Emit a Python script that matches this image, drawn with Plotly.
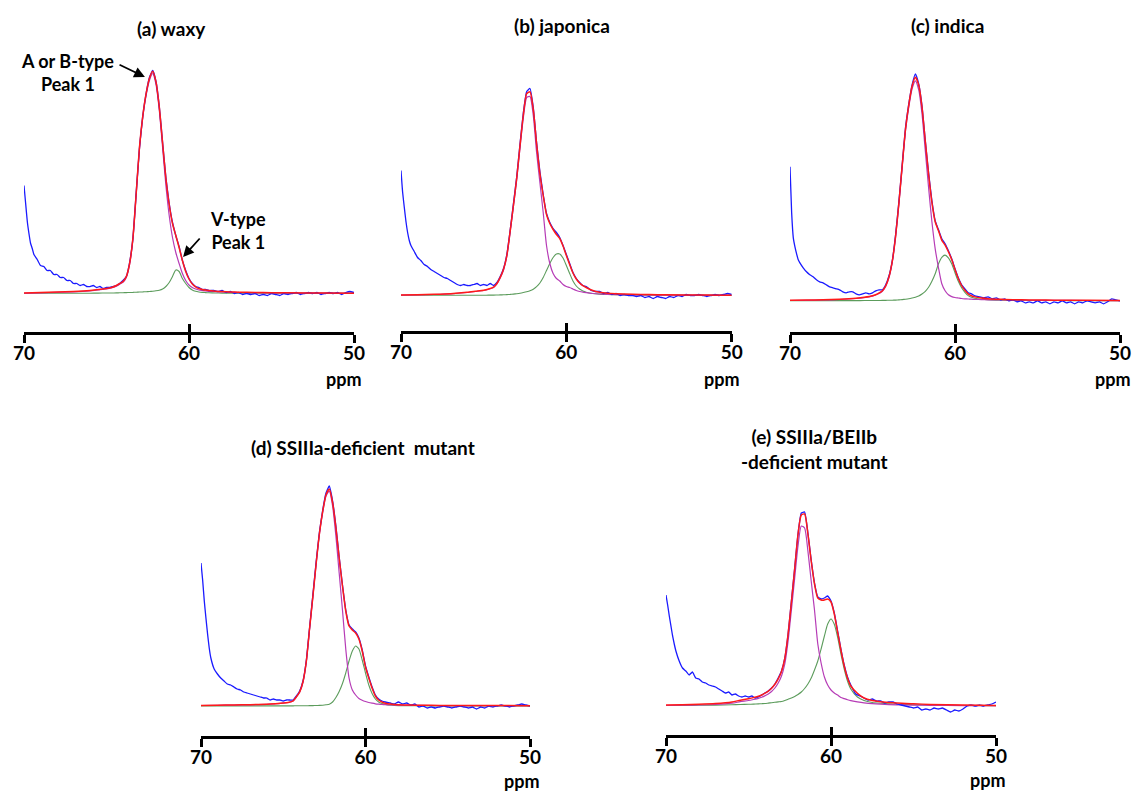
import plotly.graph_objects as go

# ---------------- data (intensities in arbitrary units) -------------
PPM_FIT = [70, 69, 68, 67, 66, 65.5, 65, 64.7,
           64.4, 64.2, 64.0, 63.8, 63.6, 63.4, 63.2, 63.0, 62.8, 62.6, 62.4, 62.2, 62.0, 61.8, 61.6,
           61.4, 61.2, 61.0, 60.8, 60.6, 60.4, 60.2, 60.0, 59.8, 59.6, 59.4, 59.2, 59.0, 58.8,
           58.4, 58.0, 57.5, 57.0, 56.0, 55.0, 54.0, 52.0, 50.0]

PPM_EXP = [70.0, 69.9, 69.8, 69.7, 69.6, 69.5, 69.4, 69.2, 69.0, 68.8, 68.6, 68.4, 68.2, 68.0,
           67.8, 67.6, 67.4, 67.2, 67.0, 66.8, 66.6, 66.4, 66.2, 66.0, 65.8, 65.6, 65.4, 65.2,
           65.0, 64.8, 64.6,
           64.4, 64.2, 64.0, 63.8, 63.6, 63.4, 63.2, 63.0, 62.8, 62.6, 62.4, 62.2, 62.0, 61.8,
           61.6, 61.4, 61.2, 61.0, 60.8, 60.6, 60.4, 60.2, 60.0, 59.8, 59.6, 59.4, 59.2, 59.0, 58.8,
           58.5, 58.25, 58.0, 57.75, 57.5, 57.25, 57.0, 56.75, 56.5, 56.25, 56.0, 55.75, 55.5,
           55.25, 55.0, 54.75, 54.5, 54.25, 54.0, 53.75, 53.5, 53.25, 53.0, 52.75, 52.5, 52.25,
           52.0, 51.75, 51.5, 51.25, 51.0, 50.75, 50.5, 50.25, 50.0]

# (a) waxy
A_EXP = [108, 90, 72, 60, 50, 45, 39, 34, 28, 27, 23, 23, 19, 19, 16, 16, 13, 13, 10, 10, 8, 9,
         7, 7, 8, 6, 7, 5, 6, 6, 7,
         8, 10, 13, 17, 31, 55, 101, 146, 178, 200, 216, 223, 212, 187, 151, 116, 90, 71, 58,
         47, 33, 23, 15, 10, 7, 6, 4, 4, 3,
         3, 2, 3, 1, 2, 0, 1, -1, 0, -1, 0, -2, -1, -2, 0, -1, -2, 0, -1, 0, 1, -1, 0, 1, 0,
         1, -1, 0, 1, 0, 1, -1, 1, 2, 1]
A_FIT = [0.5, 1.0, 1.5, 2.0, 3.0, 4.0, 5.0, 6.0,
         8, 10, 12, 16.9, 30, 55.1, 100.3, 146.5, 177.6, 199.8, 215, 222.3, 211.7, 186.3, 150.5,
         115, 89, 70, 58, 46, 33, 22, 14.5, 9.5, 6.7, 5, 4.1, 3.4, 2.9,
         2.3, 1.9, 1.5, 1.3, 1.0, 0.8, 0.7, 0.4, 0.3]
A_PEAK1 = [0.2, 0.7, 1.2, 1.7, 2.7, 3.6, 4.5, 5.5,
           7.4, 9.3, 11.2, 16, 29, 54, 99, 145, 176, 198, 213, 220, 209, 183, 146,
           108, 78, 56, 41, 30, 20, 13, 8.5, 6, 4.5, 3.5, 3, 2.5, 2.2,
           1.8, 1.5, 1.2, 1, 0.8, 0.6, 0.5, 0.3, 0.2]
A_VTYPE = [0.3, 0.3, 0.3, 0.3, 0.3, 0.4, 0.5, 0.5,
           0.6, 0.7, 0.8, 0.9, 1.0, 1.1, 1.3, 1.5, 1.6, 1.8, 2.0, 2.3, 2.7, 3.3, 4.5,
           7, 11, 17, 23.5, 22, 15, 10, 6, 3.5, 2.2, 1.5, 1.1, 0.9, 0.7,
           0.5, 0.4, 0.3, 0.3, 0.2, 0.2, 0.2, 0.1, 0.1]

# (b) japonica
B_EXP = [125, 103, 88, 74, 63, 55, 50, 44, 38, 35, 31, 29, 26, 24, 22, 20, 18, 17, 15, 13, 11,
         10, 11, 10, 10, 11, 12, 10, 11, 10, 12,
         10, 13, 19, 27, 41, 65, 92, 119, 152, 183, 204, 207, 188, 153, 124, 101, 82, 73, 67,
         63, 58, 50, 41, 32, 23, 17, 13, 10, 9,
         5, 4, 4, 2, 3, 1, 2, 0, 1, 0, 0, -1, 0, -2, -1, -3, -1, -2, -3, -1, -2, 0, -1, 1, 0,
         0, 1, 0, -1, 0, 1, 0, 1, 2, 1]
B_FIT = [0.5, 0.8, 1.2, 1.8, 3.2, 4.25, 5.3, 6.55,
         8.4, 12, 18.1, 26.2, 39.9, 64.1, 90.4, 117.8, 150.3, 181, 201.8, 203.8, 186.3, 151.8, 122,
         100, 81, 72, 66, 61, 57, 49.5, 40, 31, 22.5, 16.5, 12.5, 9.8, 8,
         5, 3.3, 2.2, 1.7, 1.2, 0.9, 0.7, 0.5, 0.35]
B_PEAK1 = [0.3, 0.6, 1.0, 1.6, 3.0, 4.0, 5.0, 6.2,
           8, 11.5, 17.5, 25.5, 39, 63, 89, 116, 148, 178, 198, 199, 180, 143, 113,
           83, 50, 32, 22, 17, 14.5, 11, 9, 8, 6.5, 5, 4, 3.3, 2.8,
           2.0, 1.5, 1.1, 0.9, 0.6, 0.5, 0.4, 0.3, 0.2]
B_VTYPE = [0.2, 0.2, 0.2, 0.2, 0.2, 0.25, 0.3, 0.35,
           0.4, 0.5, 0.6, 0.7, 0.9, 1.1, 1.4, 1.8, 2.3, 3.0, 3.8, 4.8, 6.3, 8.8, 12.5,
           18, 25, 32, 38, 41.5, 41.5, 37.5, 30, 22, 14.5, 9.5, 6.5, 4.5, 3.3,
           2.0, 1.4, 1.0, 0.8, 0.5, 0.4, 0.3, 0.2, 0.15]

# (c) indica
C_EXP = [134, 88, 63, 54, 47, 41, 38, 33, 29, 26, 24, 21, 19, 18, 16, 14, 13, 12, 11, 9, 8, 9,
         9, 7, 6, 7, 8, 7, 8, 10, 11,
         11, 16, 25, 40, 66, 99, 136, 173, 197, 216, 227, 217, 195, 160, 128, 100, 80, 71, 62,
         57, 50, 42, 32, 23, 16, 12, 8, 7, 5,
         4, 3, 4, 2, 3, 1, 2, 0, 1, -1, 0, -2, -1, -2, 0, -2, -1, -3, -1, -2, 0, -2, -1, -3,
         -1, -2, 0, -1, -2, -1, -3, -1, 2, 1, 0]
C_FIT = [0.5, 0.7, 1.0, 1.5, 2.5, 3.45, 5.0, 6.95,
         10.0, 14.95, 24.0, 39.6, 64.7, 97.9, 135.2, 171.6, 196.1, 214.8, 223.6, 215.8, 193.8,
         159.5, 126.5, 98.5, 79, 70, 60.5, 55.7, 49, 41.2, 31.3, 22.3, 15.3, 10.5, 7, 5.1, 3.9,
         2.7, 2.0, 1.6, 1.3, 1.0, 0.8, 0.65, 0.5, 0.35]
C_PEAK1 = [0.3, 0.5, 0.8, 1.3, 2.3, 3.2, 4.7, 6.6,
           9.6, 14.5, 23.5, 39, 64, 97, 134, 170, 194, 212, 220, 211, 187, 150, 113,
           79, 52, 33, 17, 10, 6, 4.2, 3.3, 2.8, 2.3, 2, 1.8, 1.6, 1.4,
           1.2, 1.0, 0.9, 0.8, 0.6, 0.5, 0.4, 0.3, 0.2]
C_VTYPE = [0.2, 0.2, 0.2, 0.2, 0.2, 0.25, 0.3, 0.35,
           0.4, 0.45, 0.5, 0.6, 0.7, 0.9, 1.2, 1.6, 2.1, 2.8, 3.6, 4.8, 6.8, 9.5, 13.5,
           19.5, 27, 37, 43.5, 45.7, 43, 37, 28, 19.5, 13, 8.5, 5.2, 3.5, 2.5,
           1.5, 1.0, 0.7, 0.5, 0.4, 0.3, 0.25, 0.2, 0.15]

# (d) SSIIIa-deficient mutant
D_EXP = [143, 126, 105, 88, 72, 58, 48, 37, 32, 28, 25, 22, 21, 19, 17, 16, 14, 13, 12, 11, 10,
         9, 8, 8, 6, 7, 6, 6, 5, 6, 6,
         6, 10, 15, 25, 45, 78, 111, 144, 174, 196, 213, 220, 205, 180, 149, 121, 96, 81, 77,
         74, 68, 56, 40, 29, 19, 11, 7, 5, 4,
         3, 2, 4, 2, 3, 1, 2, -1, 0, -2, -1, -2, -1, 0, -1, -2, -1, 0, -1, -2, -1, -3, -1, -2,
         0, -1, 0, 1, 0, -1, 0, 1, 2, 1, 0]
D_FIT = [0.6, 0.8, 1.0, 1.3, 1.8, 2.3, 2.9, 3.6,
         5.2, 9.2, 14.2, 24.3, 44.3, 77.4, 109.4, 142.5, 172.6, 194.8, 211.2, 217, 203.5, 178.5,
         148, 120, 95, 80, 76, 73, 67, 55, 39, 28, 18, 10, 6, 4, 2.8,
         1.7, 1.2, 1.0, 0.8, 0.65, 0.5, 0.45, 0.4, 0.35]
D_PEAK1 = [0.5, 0.7, 0.9, 1.2, 1.7, 2.2, 2.8, 3.5,
           5, 9, 14, 24, 44, 77, 109, 142, 172, 194, 210, 215, 200, 170, 133,
           96, 57, 28, 16, 11, 7.5, 5.8, 4.5, 3.5, 2.8, 2.2, 1.8, 1.5, 1.3,
           1.0, 0.8, 0.7, 0.6, 0.5, 0.4, 0.35, 0.3, 0.25]
D_VTYPE = [0.1, 0.1, 0.1, 0.1, 0.1, 0.1, 0.1, 0.1,
           0.15, 0.2, 0.2, 0.25, 0.3, 0.35, 0.4, 0.5, 0.6, 0.8, 1.2, 1.8, 4, 8.5, 14.5,
           22.5, 33, 45, 55, 60, 57, 46, 33, 21, 12.5, 7, 4, 2.5, 1.5,
           0.7, 0.4, 0.3, 0.2, 0.15, 0.1, 0.1, 0.1, 0.1]

# (e) SSIIIa/BEIIb-deficient mutant
E_EXP = [111, 101, 90, 80, 70, 62, 55, 45, 38, 35, 31, 34, 28, 27, 24, 23, 21, 20, 19, 17, 15,
         13, 14, 11, 12, 10, 9, 10, 9, 10, 8,
         9, 11, 13, 15, 18, 22, 28, 35, 48, 72, 105, 138, 172, 193, 194, 173, 146, 123, 109,
         107, 108, 110, 105, 93, 75, 57, 41, 29, 21,
         12, 10, 8, 6, 7, 5, 5, 3, 4, 4, 2, 1, 0, -1, -2, -1, -4, -3, -4, -2, -3, -2, -4, -6,
         -4, -5, -3, 0, 1, 0, 1, 0, 1, 2, 4]
E_FIT = [0.95, 1.35, 1.7, 2.4, 4.0, 5.8, 7.2, 8.4,
         9.7, 11, 12.8, 14.9, 17.8, 21.7, 27.1, 34.5, 47.5, 71.8, 104, 137.5, 171.5, 191, 192,
         172, 145, 122, 108, 106, 106, 107, 104, 92, 74, 56, 40, 28, 20,
         12.7, 8, 5.5, 4.3, 2.9, 2.2, 1.6, 0.9, 0.6]
E_PEAK1 = [0.5, 0.8, 1.0, 1.5, 2.8, 4.3, 5.5, 6.5,
           7.6, 8.7, 10.3, 12, 14.5, 18, 23, 30, 42, 65, 96, 128, 160, 180, 178,
           155, 125, 96, 62, 43, 29, 21, 16, 13, 11, 8.5, 7.4, 6.3, 5.4,
           4.2, 3.2, 2.3, 1.8, 1.2, 0.9, 0.7, 0.4, 0.3]
E_VTYPE = [0.45, 0.55, 0.7, 0.9, 1.2, 1.5, 1.7, 1.9,
           2.1, 2.3, 2.5, 2.9, 3.3, 3.7, 4.1, 4.5, 5.5, 6.8, 8, 9.5, 11.5, 14, 17.5,
           22, 28, 36, 45, 57, 70, 82, 87, 81.7, 68.9, 52, 37, 25, 17,
           9, 5.5, 3.5, 2.7, 1.7, 1.3, 0.94, 0.53, 0.34]

TITLES = ["(a) waxy", "(b) japonica", "(c) indica",
          "(d) SSIIIa-deficient\u00a0\u00a0mutant", "(e) SSIIIa/BEIIb<br>-deficient mutant"]
TICK_VALUES = [70, 60, 50]
TICK_LABELS = ["70", "60", "50"]
X_LABEL = "ppm"

SERIES = [
    (A_EXP, A_FIT, A_PEAK1, A_VTYPE),
    (B_EXP, B_FIT, B_PEAK1, B_VTYPE),
    (C_EXP, C_FIT, C_PEAK1, C_VTYPE),
    (D_EXP, D_FIT, D_PEAK1, D_VTYPE),
    (E_EXP, E_FIT, E_PEAK1, E_VTYPE),
]

# ---------------- layout geometry (pixels in the 1133 x 791 page) -------------------------
W, H = 1133, 791
PANELS = [
    dict(x0=24, x1=354, axis=332, base=293.5, top=55, tx=171, ty=28, px=364, py=379),
    dict(x0=401, x1=731.7, axis=331, base=295.5, top=55, tx=562, ty=26, px=742, py=379),
    dict(x0=790, x1=1120, axis=332, base=300.8, top=55, tx=947, ty=26, px=1133, py=379),
    dict(x0=201, x1=530, axis=736, base=706, top=465, tx=363, ty=447, px=542, py=781),
    dict(x0=666, x1=996, axis=735, base=706, top=465, tx=814, ty=449, px=1008, py=780),
]

FONT = "Lato, 'Open Sans', sans-serif"
C_EXP_COL = "#1a1aff"
C_FIT_COL = "#ff1a1a"
C_PK_COL = "#b63cb6"
C_V_COL = "#5c9c5c"


def fx(px):
    return px / W


def fy(py):
    return 1 - py / H


fig = go.Figure()
layout = {}
annotations = []

for i, (p, (exp, fit, pk1, vt)) in enumerate(zip(PANELS, SERIES)):
    n = i + 1
    xname = "x" if n == 1 else f"x{n}"
    yname = "y" if n == 1 else f"y{n}"
    xkey = "xaxis" if n == 1 else f"xaxis{n}"
    ykey = "yaxis" if n == 1 else f"yaxis{n}"
    ov = f"x{n + 5}"

    common = dict(xaxis=xname, yaxis=yname, mode="lines", showlegend=False, hoverinfo="skip")
    fig.add_trace(go.Scatter(x=PPM_FIT, y=vt, line=dict(color=C_V_COL, width=1.1, shape="spline", smoothing=0.6), **common))
    fig.add_trace(go.Scatter(x=PPM_FIT, y=pk1, line=dict(color=C_PK_COL, width=1.2, shape="spline", smoothing=0.6), **common))
    fig.add_trace(go.Scatter(x=PPM_EXP, y=exp, line=dict(color=C_EXP_COL, width=1.3, shape="spline", smoothing=0.4), **common))
    fig.add_trace(go.Scatter(x=PPM_FIT, y=fit, line=dict(color=C_FIT_COL, width=1.5, shape="spline", smoothing=0.6), **common))
    fig.add_trace(go.Scatter(x=[], y=[], xaxis=ov, yaxis=yname, showlegend=False))

    lo = -(p["axis"] - p["base"])
    hi = lo + (p["axis"] - p["top"])
    layout[xkey] = dict(
        domain=[fx(p["x0"]), fx(p["x1"])], anchor=yname, range=[70, 50], automargin=False,
        tickvals=TICK_VALUES, ticktext=TICK_LABELS, ticks="outside", ticklen=8, tickwidth=2.5,
        tickcolor="black", showline=True, linecolor="black", linewidth=2.5,
        showgrid=False, zeroline=False, ticklabelstandoff=-6,
        tickfont=dict(family=FONT, size=19, color="black", weight="bold"),
    )
    layout[f"xaxis{n + 5}"] = dict(
        overlaying=xname, anchor=yname, side="bottom", range=[70, 50], automargin=False,
        tickvals=TICK_VALUES, ticks="inside", ticklen=8, tickwidth=2.5, tickcolor="black",
        showticklabels=False, showline=False, showgrid=False, zeroline=False,
    )
    layout[ykey] = dict(
        domain=[fy(p["axis"]), fy(p["top"])], anchor=xname, range=[lo, hi], visible=False,
        automargin=False,
    )

    annotations.append(dict(
        xref="paper", yref="paper", x=fx(p["tx"]), y=fy(p["ty"]),
        text=f"<b>{TITLES[i]}</b>", showarrow=False, xanchor="center", yanchor="middle",
        font=dict(family=FONT, size=19, color="black"),
    ))
    annotations.append(dict(
        xref="paper", yref="paper", x=fx(p["px"]), y=fy(p["py"]), text=f"<b>{X_LABEL}</b>",
        showarrow=False, xanchor="right", yanchor="middle",
        font=dict(family=FONT, size=18, color="black"),
    ))

# peak labels with arrows in panel (a)
annotations.append(dict(xref="paper", yref="paper", x=fx(67), y=fy(73),
                        text="<b>A or B-type<br>Peak 1</b>", showarrow=False,
                        xanchor="center", yanchor="middle", align="center",
                        font=dict(family=FONT, size=18, color="black")))
annotations.append(dict(xref="paper", yref="paper", x=fx(238), y=fy(230),
                        text="<b>V-type<br>Peak 1</b>", showarrow=False,
                        xanchor="center", yanchor="middle", align="center",
                        font=dict(family=FONT, size=18, color="black")))
annotations.append(dict(xref="x", yref="y", x=62.67, y=216.5, axref="x", ayref="y",
                        ax=64.30, ay=229.5, text="", showarrow=True, arrowhead=2,
                        arrowsize=1.2, arrowwidth=1.8, arrowcolor="black"))
annotations.append(dict(xref="x", yref="y", x=60.36, y=36.5, axref="x", ayref="y",
                        ax=59.27, ay=56.5, text="", showarrow=True, arrowhead=2,
                        arrowsize=1.2, arrowwidth=1.8, arrowcolor="black"))

fig.update_layout(
    width=W, height=H, margin=dict(l=0, r=0, t=0, b=0, pad=0, autoexpand=False),
    paper_bgcolor="white", plot_bgcolor="white",
    annotations=annotations, **layout,
)

fig.write_html("out.html")
